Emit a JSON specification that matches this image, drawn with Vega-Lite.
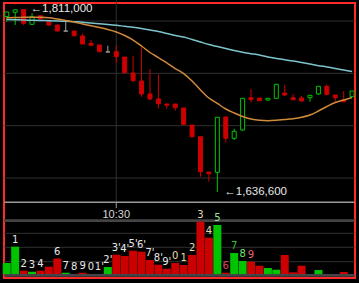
{
  "$schema": "https://vega.github.io/schema/vega-lite/v6.json",
  "width": 351,
  "height": 275,
  "autosize": {"type": "none"},
  "padding": {"left": 4, "top": 3, "right": 4, "bottom": 5},
  "background": "#000000",
  "config": {"view": {"stroke": "#ff2a2a", "strokeWidth": 2}},
  "resolve": {"scale": {"y": "independent"}},
  "datasets": {
    "k": [
      {"i":0,"o":1804300,"h":1808600,"l":1799300,"c":1808600,"v":1100,"ma5":1803200,"ma20":1801400},
      {"i":1,"o":1808300,"h":1810700,"l":1796200,"c":1810700,"v":2730,"ma5":1803300,"ma20":1801200,"lab":"1","k":"w"},
      {"i":2,"o":1811000,"h":1811000,"l":1796200,"c":1797800,"v":330,"ma5":1803500,"ma20":1801000,"lab":"2","k":"w"},
      {"i":3,"o":1796800,"h":1807400,"l":1796800,"c":1804100,"v":230,"ma5":1803600,"ma20":1800700,"lab":"3","k":"w"},
      {"i":4,"o":1805100,"h":1805100,"l":1801900,"c":1801900,"v":330,"ma5":1803500,"ma20":1800500,"lab":"4","k":"w"},
      {"i":5,"o":1799300,"h":1799300,"l":1795200,"c":1796200,"v":730,"ma5":1803100,"ma20":1800300},
      {"i":6,"o":1796200,"h":1796200,"l":1790400,"c":1790400,"v":1550,"ma5":1801900,"ma20":1800000,"lab":"6","k":"w"},
      {"i":7,"o":1790400,"h":1801000,"l":1790400,"c":1790400,"v":130,"ma5":1800500,"ma20":1799700,"lab":"7","k":"w"},
      {"i":8,"o":1790400,"h":1790400,"l":1785000,"c":1786000,"v":0,"ma5":1799000,"ma20":1799300,"lab":"8","k":"w"},
      {"i":9,"o":1785700,"h":1787900,"l":1778000,"c":1778000,"v":130,"ma5":1797100,"ma20":1798900,"lab":"9","k":"w"},
      {"i":10,"o":1778700,"h":1781800,"l":1776800,"c":1776800,"v":0,"ma5":1795400,"ma20":1798100,"lab":"0","k":"w"},
      {"i":11,"o":1777100,"h":1777100,"l":1770700,"c":1770700,"v":0,"ma5":1793800,"ma20":1797400,"lab":"1'","k":"w"},
      {"i":12,"o":1770400,"h":1776400,"l":1770400,"c":1770400,"v":700,"ma5":1791900,"ma20":1796700,"lab":"2'","k":"w"},
      {"i":13,"o":1770700,"h":1776400,"l":1760200,"c":1765900,"v":1930,"ma5":1789500,"ma20":1795900,"lab":"3'","k":"w"},
      {"i":14,"o":1765600,"h":1765600,"l":1750600,"c":1750600,"v":1800,"ma5":1786100,"ma20":1794900,"lab":"4'","k":"w"},
      {"i":15,"o":1750300,"h":1766800,"l":1741700,"c":1743000,"v":2330,"ma5":1781800,"ma20":1794000,"lab":"5'","k":"w"},
      {"i":16,"o":1742700,"h":1776600,"l":1727700,"c":1730300,"v":2230,"ma5":1776100,"ma20":1792800,"lab":"6'","k":"w"},
      {"i":17,"o":1730300,"h":1754100,"l":1724500,"c":1725500,"v":1400,"ma5":1769900,"ma20":1791400,"lab":"7'","k":"w"},
      {"i":18,"o":1725500,"h":1749100,"l":1716600,"c":1721000,"v":930,"ma5":1765100,"ma20":1790000,"lab":"8'","k":"w"},
      {"i":19,"o":1720700,"h":1720700,"l":1716200,"c":1719500,"v":530,"ma5":1759900,"ma20":1788100,"lab":"9'","k":"w"},
      {"i":20,"o":1720700,"h":1720700,"l":1714300,"c":1717200,"v":1100,"ma5":1754600,"ma20":1786100,"lab":"0","k":"c"},
      {"i":21,"o":1716900,"h":1716900,"l":1700600,"c":1701300,"v":900,"ma5":1749800,"ma20":1784700,"lab":"1","k":"c"},
      {"i":22,"o":1700600,"h":1700600,"l":1688500,"c":1689500,"v":1900,"ma5":1742700,"ma20":1782300,"lab":"2","k":"c"},
      {"i":23,"o":1689500,"h":1690100,"l":1651200,"c":1656000,"v":5230,"ma5":1734100,"ma20":1779900,"lab":"3","k":"c"},
      {"i":24,"o":1655700,"h":1655700,"l":1646500,"c":1654100,"v":3630,"ma5":1726400,"ma20":1777500,"lab":"4","k":"c"},
      {"i":25,"o":1655400,"h":1708000,"l":1636600,"c":1708000,"v":4900,"ma5":1721200,"ma20":1775600,"lab":"5","k":"lg"},
      {"i":26,"o":1708300,"h":1708300,"l":1684100,"c":1687900,"v":130,"ma5":1715900,"ma20":1773700,"lab":"6","k":"r"},
      {"i":27,"o":1687900,"h":1697100,"l":1686300,"c":1694600,"v":2100,"ma5":1712100,"ma20":1771800,"lab":"7","k":"g"},
      {"i":28,"o":1695900,"h":1726100,"l":1694900,"c":1726100,"v":1300,"ma5":1708800,"ma20":1770100,"lab":"8","k":"g2"},
      {"i":29,"o":1726700,"h":1735000,"l":1722300,"c":1724800,"v":1230,"ma5":1706400,"ma20":1768800,"lab":"9","k":"p"},
      {"i":30,"o":1726400,"h":1726400,"l":1723900,"c":1723900,"v":830,"ma5":1705100,"ma20":1767500},
      {"i":31,"o":1724500,"h":1726100,"l":1723600,"c":1726100,"v":600,"ma5":1704700,"ma20":1765600},
      {"i":32,"o":1726100,"h":1739500,"l":1726100,"c":1739500,"v":430,"ma5":1705100,"ma20":1764200},
      {"i":33,"o":1731200,"h":1738900,"l":1728300,"c":1729300,"v":1900,"ma5":1705900,"ma20":1763000},
      {"i":34,"o":1726700,"h":1730300,"l":1724800,"c":1724800,"v":170,"ma5":1706700,"ma20":1761800},
      {"i":35,"o":1726400,"h":1728300,"l":1722600,"c":1723600,"v":830,"ma5":1708000,"ma20":1760400},
      {"i":36,"o":1726700,"h":1729000,"l":1722900,"c":1729000,"v":0,"ma5":1710200,"ma20":1758900},
      {"i":37,"o":1730300,"h":1737600,"l":1729300,"c":1737600,"v":400,"ma5":1714000,"ma20":1757300},
      {"i":38,"o":1737600,"h":1739500,"l":1729000,"c":1730000,"v":0,"ma5":1718300,"ma20":1756100},
      {"i":39,"o":1729300,"h":1729300,"l":1722900,"c":1726700,"v":0,"ma5":1722100,"ma20":1754600},
      {"i":40,"o":1724500,"h":1733100,"l":1722900,"c":1722900,"v":200,"ma5":1724500,"ma20":1753200},
      {"i":41,"o":1727700,"h":1733100,"l":1727700,"c":1733100,"v":0,"ma5":1726900,"ma20":1751800}
    ],
    "pgrid": [{"p":1800000},{"p":1750000},{"p":1700000},{"p":1650000}],
    "vgrid": [{"v":4070},{"v":2670},{"v":1230}],
    "vband": [{"v":5330},{"v":-130}],
    "ticks": [{"i":13,"time":"10:30"}],
    "ext": [{"i":2,"p":1811000,"txt":"←1,811,000"},{"i":25,"p":1636600,"txt":"←1,636,600"}]
  },
  "layer": [
    {
      "data": {"name": "pgrid"},
      "mark": {"type": "rule", "color": "#303030", "strokeWidth": 1},
      "encoding": {
        "y": {"field": "p", "type": "quantitative", "scale": {"domain": [1554462, 1817197], "nice": false, "zero": false}, "axis": null},
        "x": {"datum": -0.3, "type": "quantitative", "scale": {"domain": [0.2653, 40.749], "nice": false, "zero": false}, "axis": null},
        "x2": {"datum": 41.3}
      }
    },
    {
      "data": {"name": "ticks"},
      "mark": {"type": "rule", "color": "#303030", "strokeWidth": 1},
      "encoding": {
        "x": {"field": "i", "type": "quantitative", "scale": {"domain": [0.2653, 40.749], "nice": false, "zero": false}, "axis": null},
        "y": {"datum": 1820000, "type": "quantitative", "scale": {"domain": [1554462, 1817197], "nice": false, "zero": false}, "axis": null},
        "y2": {"datum": 1627073}
      }
    },
    {
      "data": {"name": "ticks"},
      "mark": {"type": "rule", "color": "#9a9a9a", "strokeWidth": 1.5},
      "encoding": {
        "y": {"datum": 1626786, "type": "quantitative", "scale": {"domain": [1554462, 1817197], "nice": false, "zero": false}, "axis": null},
        "x": {"datum": -0.3, "type": "quantitative", "scale": {"domain": [0.2653, 40.749], "nice": false, "zero": false}, "axis": null},
        "x2": {"datum": 41.3}
      }
    },
    {
      "data": {"name": "ticks"},
      "mark": {"type": "rule", "color": "#9a9a9a", "strokeWidth": 1},
      "encoding": {
        "x": {"field": "i", "type": "quantitative", "scale": {"domain": [0.2653, 40.749], "nice": false, "zero": false}, "axis": null},
        "y": {"datum": 1627073, "type": "quantitative", "scale": {"domain": [1554462, 1817197], "nice": false, "zero": false}, "axis": null},
        "y2": {"datum": 1621340}
      }
    },
    {
      "data": {"name": "ticks"},
      "mark": {"type": "text", "color": "#d8d8d8", "font": "Liberation Sans", "fontSize": 11, "align": "center", "baseline": "alphabetic"},
      "encoding": {
        "x": {"field": "i", "type": "quantitative", "scale": {"domain": [0.2653, 40.749], "nice": false, "zero": false}, "axis": null},
        "y": {"datum": 1611786, "type": "quantitative", "scale": {"domain": [1554462, 1817197], "nice": false, "zero": false}, "axis": null},
        "text": {"field": "time"}
      }
    },
    {
      "data": {"name": "vgrid"},
      "mark": {"type": "rule", "color": "#303030", "strokeWidth": 1},
      "encoding": {
        "y": {"field": "v", "type": "quantitative", "scale": {"domain": [-400, 27100], "nice": false, "zero": false}, "axis": null},
        "x": {"datum": -0.3, "type": "quantitative", "scale": {"domain": [0.2653, 40.749], "nice": false, "zero": false}, "axis": null},
        "x2": {"datum": 41.3}
      }
    },
    {
      "data": {"name": "vband"},
      "mark": {"type": "rule", "color": "#444444", "strokeWidth": 2.7},
      "encoding": {
        "y": {"field": "v", "type": "quantitative", "scale": {"domain": [-400, 27100], "nice": false, "zero": false}, "axis": null},
        "x": {"datum": -0.3, "type": "quantitative", "scale": {"domain": [0.2653, 40.749], "nice": false, "zero": false}, "axis": null},
        "x2": {"datum": 41.3}
      }
    },
    {
      "data": {"name": "k"},
      "mark": {"type": "bar", "width": 8},
      "encoding": {
        "x": {"field": "i", "type": "quantitative", "scale": {"domain": [0.2653, 40.749], "nice": false, "zero": false}, "axis": null},
        "y": {"field": "v", "type": "quantitative", "scale": {"domain": [-400, 27100], "nice": false, "zero": false}, "axis": null},
        "y2": {"datum": 0},
        "color": {"condition": {"test": "datum.c >= datum.o", "value": "#00c400"}, "value": "#cc0000"}
      }
    },
    {
      "data": {"name": "k"},
      "transform": [{"filter": "datum.lab != null"}],
      "mark": {"type": "text", "font": "DejaVu Sans", "fontSize": 10, "align": "center", "baseline": "alphabetic", "dy": -4},
      "encoding": {
        "x": {"field": "i", "type": "quantitative", "scale": {"domain": [0.2653, 40.749], "nice": false, "zero": false}, "axis": null},
        "y": {"field": "v", "type": "quantitative", "scale": {"domain": [-400, 27100], "nice": false, "zero": false}, "axis": null},
        "text": {"field": "lab"},
        "color": {"field": "k", "type": "nominal", "legend": null, "scale": {"domain": ["w", "c", "lg", "r", "g", "g2", "p"], "range": ["#e8e8e8", "#e6dcb0", "#9be89b", "#e0405a", "#2ec82e", "#70e070", "#f0607a"]}}
      }
    },
    {
      "data": {"name": "k"},
      "mark": {"type": "rule", "strokeWidth": 1},
      "encoding": {
        "x": {"field": "i", "type": "quantitative", "scale": {"domain": [0.2653, 40.749], "nice": false, "zero": false}, "axis": null},
        "y": {"field": "l", "type": "quantitative", "scale": {"domain": [1554462, 1817197], "nice": false, "zero": false}, "axis": null},
        "y2": {"field": "h"},
        "color": {"condition": [{"test": "datum.c > datum.o", "value": "#00c400"}, {"test": "datum.c < datum.o", "value": "#cc0000"}], "value": "#a0a0a0"}
      }
    },
    {
      "data": {"name": "k"},
      "mark": {"type": "bar", "width": 4, "strokeWidth": 1},
      "encoding": {
        "x": {"field": "i", "type": "quantitative", "scale": {"domain": [0.2653, 40.749], "nice": false, "zero": false}, "axis": null},
        "y": {"field": "o", "type": "quantitative", "scale": {"domain": [1554462, 1817197], "nice": false, "zero": false}, "axis": null},
        "y2": {"field": "c"},
        "fill": {"condition": [{"test": "datum.c > datum.o", "value": "#000000"}, {"test": "datum.c < datum.o", "value": "#cc0000"}], "value": "#a0a0a0"},
        "stroke": {"condition": [{"test": "datum.c > datum.o", "value": "#00c400"}, {"test": "datum.c < datum.o", "value": "#cc0000"}], "value": "#a0a0a0"}
      }
    },
    {
      "data": {"name": "k"},
      "mark": {"type": "line", "color": "#7cc4cc", "strokeWidth": 1.5, "interpolate": "monotone"},
      "encoding": {
        "x": {"field": "i", "type": "quantitative", "scale": {"domain": [0.2653, 40.749], "nice": false, "zero": false}, "axis": null},
        "y": {"field": "ma20", "type": "quantitative", "scale": {"domain": [1554462, 1817197], "nice": false, "zero": false}, "axis": null}
      }
    },
    {
      "data": {"name": "k"},
      "mark": {"type": "line", "color": "#d08a3c", "strokeWidth": 1.5, "interpolate": "monotone"},
      "encoding": {
        "x": {"field": "i", "type": "quantitative", "scale": {"domain": [0.2653, 40.749], "nice": false, "zero": false}, "axis": null},
        "y": {"field": "ma5", "type": "quantitative", "scale": {"domain": [1554462, 1817197], "nice": false, "zero": false}, "axis": null}
      }
    },
    {
      "data": {"name": "ext"},
      "mark": {"type": "text", "color": "#e8e8e8", "font": "Liberation Sans", "fontSize": 11.5, "align": "left", "baseline": "middle", "dx": 7},
      "encoding": {
        "x": {"field": "i", "type": "quantitative", "scale": {"domain": [0.2653, 40.749], "nice": false, "zero": false}, "axis": null},
        "y": {"field": "p", "type": "quantitative", "scale": {"domain": [1554462, 1817197], "nice": false, "zero": false}, "axis": null},
        "text": {"field": "txt"}
      }
    }
  ]
}
